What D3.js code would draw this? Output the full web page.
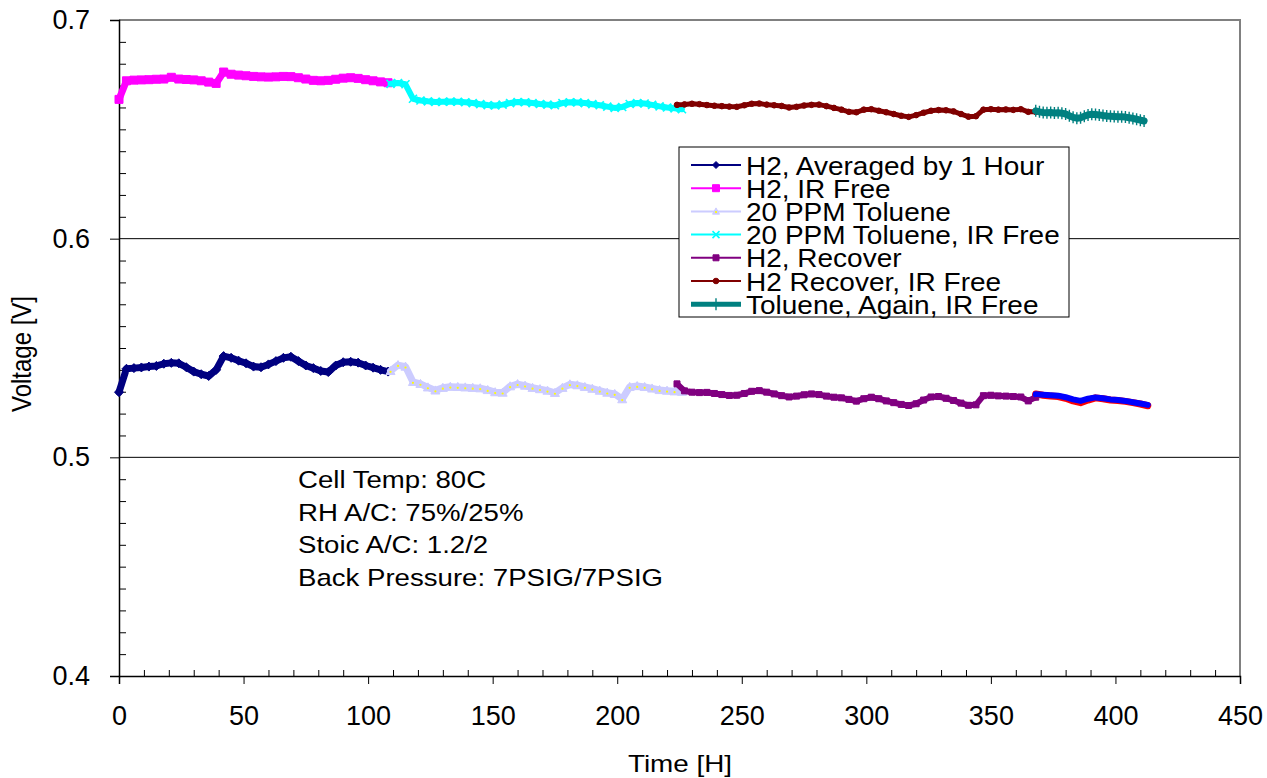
<!DOCTYPE html>
<html>
<head>
<meta charset="utf-8">
<script src="https://cdn.jsdelivr.net/npm/d3@7"></script>
<style>
  body { margin: 0; background: #fff; }
  svg { display: block; }
  text { font-family: "Liberation Sans", Arial, sans-serif; fill: #000; }
</style>
</head>
<body>
<svg id="chart" width="1267" height="778"></svg>
<script>
// ---- data (hours start / sampling step / voltage readings) ----
const legendNames = [
  "H2, Averaged by 1 Hour",
  "H2, IR Free",
  "20 PPM Toluene",
  "20 PPM Toluene, IR Free",
  "H2, Recover",
  "H2 Recover, IR Free",
  "Toluene, Again, IR Free"
];

const h2Avg = [0.5298,0.5405,0.5408,0.5411,0.5415,0.5418,0.5428,0.5432,0.5430,0.5412,0.5392,0.5380,0.5372,0.5400,
  0.5463,0.5455,0.5442,0.5430,0.5415,0.5412,0.5425,0.5440,0.5455,0.5460,0.5440,0.5420,0.5408,0.5395,0.5390,
  0.5420,0.5435,0.5437,0.5433,0.5420,0.5410,0.5400,0.5392];

const h2IrFree = [0.6637,0.6722,0.6725,0.6726,0.6727,0.6729,0.6730,0.6738,0.6730,0.6728,0.6726,0.6722,0.6716,0.6710,
  0.6762,0.6752,0.6748,0.6745,0.6742,0.6740,0.6739,0.6740,0.6742,0.6741,0.6736,0.6730,0.6724,0.6722,0.6724,
  0.6729,0.6734,0.6736,0.6733,0.6727,0.6722,0.6717,0.6713];

const toluene = [0.5395,0.5422,0.5415,0.5345,0.5336,0.5320,0.5306,0.5318,0.5323,0.5322,0.5320,0.5318,0.5316,0.5308,
  0.5298,0.5296,0.5325,0.5335,0.5328,0.5318,0.5312,0.5305,0.5295,0.5318,0.5334,0.5330,0.5322,0.5314,0.5305,
  0.5296,0.5290,0.5266,0.5322,0.5326,0.5322,0.5315,0.5308,0.5305,0.5302,0.5300];

const tolueneIrFree = [0.6708,0.6712,0.6706,0.6640,0.6632,0.6628,0.6625,0.6626,0.6627,0.6626,0.6624,0.6620,0.6615,
  0.6611,0.6609,0.6613,0.6620,0.6625,0.6624,0.6620,0.6616,0.6613,0.6610,0.6620,0.6624,0.6623,0.6620,0.6615,
  0.6610,0.6604,0.6598,0.6602,0.6616,0.6620,0.6618,0.6612,0.6605,0.6600,0.6596,0.6592];

const h2Recover = [0.5336,0.5304,0.5298,0.5296,0.5297,0.5292,0.5287,0.5283,0.5284,0.5292,0.5302,0.5305,0.5298,
  0.5290,0.5282,0.5276,0.5280,0.5286,0.5290,0.5287,0.5280,0.5275,0.5272,0.5265,0.5257,0.5268,0.5275,0.5268,
  0.5258,0.5250,0.5242,0.5237,0.5245,0.5262,0.5276,0.5278,0.5270,0.5260,0.5248,0.5238,0.5240,0.5282,0.5284,
  0.5281,0.5280,0.5278,0.5276,0.5258,0.5275];

const h2RecoverIrFree = [0.6612,0.6614,0.6617,0.6615,0.6611,0.6608,0.6606,0.6604,0.6603,0.6610,0.6617,0.6618,
  0.6613,0.6610,0.6607,0.6600,0.6603,0.6609,0.6612,0.6613,0.6606,0.6598,0.6590,0.6580,0.6578,0.6590,0.6592,
  0.6585,0.6578,0.6570,0.6562,0.6557,0.6565,0.6576,0.6585,0.6588,0.6587,0.6582,0.6570,0.6558,0.6560,0.6590,
  0.6592,0.6590,0.6591,0.6589,0.6592,0.6580,0.6580];

const tolueneAgain = [0.6585,0.6580,0.6577,0.6576,0.6577,0.6575,0.6576,0.6574,0.6570,0.6562,0.6555,0.6551,0.6553,
  0.6560,0.6566,0.6569,0.6568,0.6566,0.6563,0.6561,0.6560,0.6559,0.6558,0.6557,0.6556,0.6553,0.6550,0.6546,
  0.6542,0.6538];

// unlabelled late series in the lower group (red under blue)
const lateRed = [0.5290,0.5284,0.5280,0.5278,0.5270,0.5258,0.5250,0.5262,0.5272,0.5268,0.5262,0.5260,0.5256,
  0.5250,0.5244,0.5236];
const lateBlue = [0.5288,0.5286,0.5284,0.5282,0.5275,0.5265,0.5258,0.5268,0.5274,0.5270,0.5265,0.5262,0.5258,
  0.5252,0.5246,0.5240];

const xTicks = [0,50,100,150,200,250,300,350,400,450];
const yTicks = [0.4,0.5,0.6,0.7];
const notes = ["Cell Temp: 80C","RH A/C: 75%/25%","Stoic A/C: 1.2/2","Back Pressure: 7PSIG/7PSIG"];

// ---- series styling ----
const series = [
  {name: legendNames[0], t0: 0,   step: 3,   values: h2Avg,          color: "#000080", lw: 7, marker: "diamond", r: 4.5},
  {name: legendNames[1], t0: 0,   step: 3,   values: h2IrFree,       color: "#FF00FF", lw: 7, marker: "square",  r: 4},
  {name: legendNames[2], t0: 109, step: 3,   values: toluene,        color: "#CCCCFF", lw: 7, marker: "triangle",r: 4.5},
  {name: legendNames[3], t0: 109, step: 3,   values: tolueneIrFree,  color: "#00FFFF", lw: 6, marker: "x",       r: 4},
  {name: legendNames[4], t0: 224, step: 3,   values: h2Recover,      color: "#800080", lw: 6, marker: "square",  r: 3},
  {name: legendNames[5], t0: 224, step: 3,   values: h2RecoverIrFree,color: "#800000", lw: 5, marker: "circle",  r: 2.8},
  {name: legendNames[6], t0: 368, step: 1.5, values: tolueneAgain,   color: "#008080", lw: 7, marker: "plus",    r: 6},
  {name: null,           t0: 368, step: 3,   values: lateRed,        color: "#FF0000", lw: 7, marker: null,      r: 0},
  {name: null,           t0: 368, step: 3,   values: lateBlue,       color: "#0000FF", lw: 6, marker: null,      r: 0}
];

const svg = d3.select("#chart");
const x = d3.scaleLinear().domain([0, 450]).range([119, 1240]);
const y = d3.scaleLinear().domain([0.4, 0.7]).range([676, 20]);

// scaled text helper (reference text is stretched horizontally)
function label(g, str, px, py, size, sx, anchor) {
  return g.append("text")
    .attr("transform", `translate(${px},${py}) scale(${sx},1)`)
    .attr("font-size", size)
    .attr("text-anchor", anchor || "start")
    .text(str);
}

// gridlines and plot border
svg.append("g").selectAll("line").data([0.5, 0.6]).join("line")
  .attr("x1", x(0)).attr("x2", x(450))
  .attr("y1", d => y(d)).attr("y2", d => y(d))
  .attr("stroke", "#000").attr("stroke-width", 1);
svg.append("path")
  .attr("d", `M${x(0)},${y(0.7)}H${x(450)}V${y(0.4)}`)
  .attr("fill", "none").attr("stroke", "#808080").attr("stroke-width", 2);

// axes
const yMinor = d3.range(0.41, 0.7, 0.01).filter(v => Math.abs(v * 10 - Math.round(v * 10)) > 1e-6);
svg.append("g").attr("transform", `translate(${x(0)},0)`)
  .call(d3.axisRight(y).tickValues(yMinor).tickSize(7).tickFormat(""))
  .call(g => g.select(".domain").remove());
const yAxis = svg.append("g").attr("transform", `translate(${x(0)},0)`)
  .call(d3.axisLeft(y).tickValues(yTicks).tickSize(9).tickPadding(20).tickFormat(d3.format(".1f")));
yAxis.selectAll("text").attr("font-size", 27).attr("font-family", null);
yAxis.select(".domain").attr("stroke-width", 1.5);

const xMinor = d3.range(10, 450, 10).filter(v => v % 50 !== 0);
svg.append("g").attr("transform", `translate(0,${y(0.4)})`)
  .call(d3.axisTop(x).tickValues(xMinor).tickSize(6).tickFormat(""))
  .call(g => g.select(".domain").remove());
const xAxis = svg.append("g").attr("transform", `translate(0,${y(0.4)})`)
  .call(d3.axisBottom(x).tickValues(xTicks).tickSize(8).tickPadding(22));
xAxis.selectAll("text").attr("font-size", 27).attr("font-family", null);
xAxis.select(".domain").attr("stroke-width", 1.5);

// axis titles
label(svg, "Time [H]", 680, 772, 24, 1.16, "middle");
svg.append("text")
  .attr("transform", "translate(31,354) rotate(-90) scale(1,1.16)")
  .attr("font-size", 24).attr("text-anchor", "middle")
  .text("Voltage [V]");

// markers
function markerPath(type, r) {
  switch (type) {
    case "diamond": return `M0,${-r}L${r},0L0,${r}L${-r},0Z`;
    case "square": return `M${-r},${-r}h${2 * r}v${2 * r}h${-2 * r}Z`;
    case "triangle": return `M0,${-r}L${r},${r * 0.8}L${-r},${r * 0.8}Z`;
    case "x": return `M${-r},${-r}L${r},${r}M${r},${-r}L${-r},${r}`;
    case "plus": return `M0,${-r}V${r}M${-r * 0.5},0H${r * 0.5}`;
    case "circle": return d3.symbol(d3.symbolCircle, Math.PI * r * r)();
  }
  return "";
}
function drawMarker(g, s, px, py, r) {
  const p = g.append("path").attr("transform", `translate(${px},${py})`).attr("d", markerPath(s.marker, r));
  if (s.marker === "x" || s.marker === "plus") {
    p.attr("fill", "none").attr("stroke", s.color).attr("stroke-width", s.marker === "plus" ? 1.4 : 1.6);
  } else {
    p.attr("fill", s.color).attr("stroke", s.color).attr("stroke-width", 1);
  }
  if (s.marker === "triangle") {
    g.append("circle").attr("cx", px).attr("cy", py + r * 0.2).attr("r", 1.1).attr("fill", "#FFFF00");
  }
}

// series
const line = d3.line().x(d => x(d.t)).y(d => y(d.v));
series.forEach(s => {
  const pts = s.values.map((v, i) => ({t: s.t0 + i * s.step, v: v}));
  const g = svg.append("g");
  g.append("path").datum(pts).attr("d", line)
    .attr("fill", "none").attr("stroke", s.color).attr("stroke-width", s.lw)
    .attr("stroke-linejoin", "round").attr("stroke-linecap", "round");
  if (s.marker) pts.forEach(d => drawMarker(g, s, x(d.t), y(d.v), s.r));
});

// legend
const lg = svg.append("g");
lg.append("rect").attr("x", 679).attr("y", 147).attr("width", 390).attr("height", 170)
  .attr("fill", "#fff").attr("stroke", "#000").attr("stroke-width", 1);
series.filter(s => s.name).forEach((s, i) => {
  const cy = 165 + i * 23.2;
  lg.append("line").attr("x1", 691).attr("x2", 741).attr("y1", cy).attr("y2", cy)
    .attr("stroke", s.color).attr("stroke-width", s.marker === "plus" ? 5 : 2);
  drawMarker(lg, s, 716, cy, s.marker === "plus" ? 6 : Math.min(s.r, 3.5));
  label(lg, s.name, 746, cy + 9.5, 25, 1.12);
});

// test conditions note
const ng = svg.append("g");
notes.forEach((t, i) => label(ng, t, 298, 488 + i * 32.6, 24, 1.15));
</script>
</body>
</html>
